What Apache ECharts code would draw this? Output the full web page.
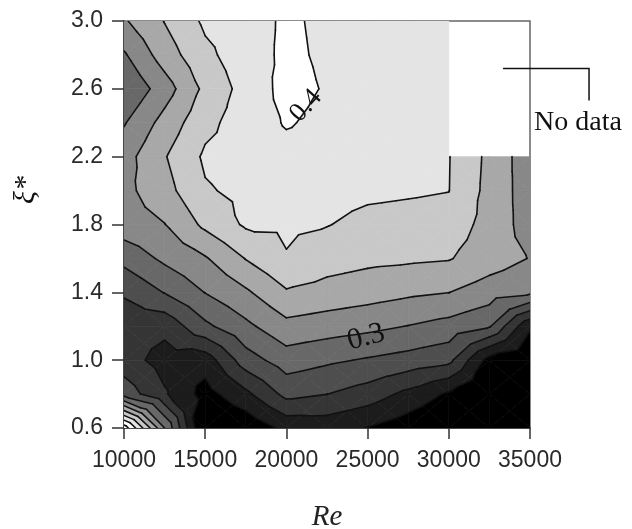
<!DOCTYPE html>
<html><head><meta charset="utf-8">
<script src="https://cdn.jsdelivr.net/npm/echarts@6/dist/echarts.min.js"></script>
<style>html,body{margin:0;padding:0;background:#fff}#c{width:632px;height:529px}</style>
</head><body><div id="c"></div>
<script>
// ---- data ----
const reValues = [10000,12500,15000,17500,20000,22500,25000,27500,30000,32500,35000];
const xiValues = [0.6,0.8,1.0,1.2,1.4,1.6,1.8,2.0,2.2,2.4,2.6,2.8,3.0];
const xTicks = [10000,15000,20000,25000,30000,35000];
const yTicks = [0.6,1.0,1.4,1.8,2.2,2.6,3.0];
// grid values per row of xi (null = no data)
const z_0_6 = [0.44, 0.3, 0.165, 0.18, 0.207, 0.21, 0.199, 0.185, 0.17, 0.16, 0.155];
const z_0_8 = [0.265, 0.228, 0.19, 0.219, 0.2574, 0.2503, 0.2388, 0.2182, 0.196, 0.175, 0.165];
const z_1_0 = [0.236, 0.215, 0.211, 0.2635, 0.2875, 0.2794, 0.2724, 0.2656, 0.2571, 0.19, 0.18];
const z_1_2 = [0.238, 0.232, 0.2697, 0.2942, 0.3176, 0.3119, 0.3066, 0.2993, 0.2911, 0.2776, 0.2035];
const z_1_4 = [0.2524, 0.2761, 0.3007, 0.321, 0.3474, 0.341, 0.3356, 0.3296, 0.3254, 0.3128, 0.3052];
const z_1_6 = [0.2828, 0.3053, 0.3227, 0.351, 0.3735, 0.361, 0.356, 0.354, 0.3516, 0.3372, 0.324];
const z_1_8 = [0.3144, 0.3243, 0.3556, 0.3785, 0.379, 0.376, 0.368, 0.366, 0.364, 0.3409, 0.314];
const z_2_0 = [0.318, 0.341, 0.3725, 0.381, 0.385, 0.384, 0.38, 0.378, 0.3755, 0.3422, 0.312];
const z_2_2 = [0.315, 0.3483, 0.379, 0.386, 0.392, 0.391, 0.389, 0.384, 0.376, 0.3439, 0.31];
const z_2_4 = [0.298, 0.3339, 0.3681, 0.3872, 0.402, 0.394, 0.391, 0.389, 0.386, null, null];
const z_2_6 = [0.2765, 0.313, 0.3562, 0.3844, 0.408, 0.398, 0.392, 0.389, 0.386, null, null];
const z_2_8 = [0.297, 0.3372, 0.3692, 0.3884, 0.405, 0.396, 0.391, 0.389, 0.387, null, null];
const z_3_0 = [0.322, 0.351, 0.3795, 0.389, 0.404, 0.395, 0.39, 0.388, 0.386, null, null];
const levels = [0.2,0.225,0.25,0.275,0.3,0.325,0.35,0.375,0.4,0.425];
const contourLabelText = ['0.4','0.3'];
const contourLabelRe = [21200, 24900];
const contourLabelXi = [2.5, 1.135];

// ---- styles ----
const bandColors = ['#000000','#1c1c1c','#353535','#4e4e4e','#686868','#888888','#a8a8a8','#c8c8c8','#e4e4e4','#ffffff','#ffffff'];
const labelAngles = [48, 15];
const labelSizes = [27, 30];

const zRows = [z_0_6,z_0_8,z_1_0,z_1_2,z_1_4,z_1_6,z_1_8,z_2_0,z_2_2,z_2_4,z_2_6,z_2_8,z_3_0];

const cells = [];
for (let j = 0; j < xiValues.length - 1; j++) {
  for (let i = 0; i < reValues.length - 1; i++) {
    const a = zRows[j][i], b = zRows[j][i+1], c = zRows[j+1][i+1], d = zRows[j+1][i];
    if (a == null || b == null || c == null || d == null) continue;
    cells.push([reValues[i], xiValues[j], i, j]);
  }
}

function cellTriangles(i, j) {
  const x0 = reValues[i], x1 = reValues[i+1], y0 = xiValues[j], y1 = xiValues[j+1];
  const p = [[x0,y0,zRows[j][i]],[x1,y0,zRows[j][i+1]],[x1,y1,zRows[j+1][i+1]],[x0,y1,zRows[j+1][i]]];
  const c = [(x0+x1)/2,(y0+y1)/2,(p[0][2]+p[1][2]+p[2][2]+p[3][2])/4];
  return [[p[0],p[1],c],[p[1],p[2],c],[p[2],p[3],c],[p[3],p[0],c]];
}
function clipHalf(poly, L, keepAbove) {
  const out = [];
  for (let k = 0; k < poly.length; k++) {
    const a = poly[k], b = poly[(k+1) % poly.length];
    const ina = keepAbove ? a[2] >= L : a[2] <= L;
    const inb = keepAbove ? b[2] >= L : b[2] <= L;
    if (ina) out.push(a);
    if (ina !== inb) {
      const t = (L - a[2]) / (b[2] - a[2]);
      out.push([a[0] + t*(b[0]-a[0]), a[1] + t*(b[1]-a[1]), L]);
    }
  }
  return out;
}

function renderFill(params, api) {
  const i = api.value(2), j = api.value(3);
  const children = [];
  for (const tri of cellTriangles(i, j)) {
    for (let b = 0; b <= levels.length; b++) {
      let poly = tri;
      if (b > 0) poly = clipHalf(poly, levels[b-1], true);
      if (poly.length < 3) continue;
      if (b < levels.length) poly = clipHalf(poly, levels[b], false);
      if (poly.length < 3) continue;
      const pts = poly.map(q => api.coord([q[0], q[1]]));
      children.push({type:'polygon', shape:{points:pts}, silent:true,
        style:{fill:bandColors[b], stroke:bandColors[b], lineWidth:0.7}});
    }
  }
  return {type:'group', children};
}
function renderLines(params, api) {
  const i = api.value(2), j = api.value(3);
  const children = [];
  for (const tri of cellTriangles(i, j)) {
    for (const L of levels) {
      const pts = [];
      for (let k = 0; k < 3; k++) {
        const a = tri[k], b = tri[(k+1) % 3];
        if ((a[2] >= L) !== (b[2] >= L)) {
          const t = (L - a[2]) / (b[2] - a[2]);
          pts.push(api.coord([a[0] + t*(b[0]-a[0]), a[1] + t*(b[1]-a[1])]));
        }
      }
      if (pts.length === 2) {
        children.push({type:'line', silent:true, shape:{x1:pts[0][0],y1:pts[0][1],x2:pts[1][0],y2:pts[1][1]},
          style:{stroke:'#111', lineWidth:1.6, lineCap:'round'}});
      }
    }
  }
  return {type:'group', children};
}
const labelData = contourLabelText.map((t, k) => [contourLabelRe[k], contourLabelXi[k], k]);
function renderLabel(params, api) {
  const k = api.value(2);
  const p = api.coord([api.value(0), api.value(1)]);
  return {type:'text', x:p[0], y:p[1], rotation: labelAngles[k]*Math.PI/180, silent:true,
    style:{text: contourLabelText[k], fill:'#111', align:'center', verticalAlign:'middle',
      fontFamily:'"Liberation Serif", "Times New Roman", serif', fontSize: labelSizes[k]}};
}

const chart = echarts.init(document.getElementById('c'), null, {renderer:'canvas'});
const axisFont = '"Liberation Sans", Arial, sans-serif';
chart.setOption({
  animation: false,
  backgroundColor: '#ffffff',
  grid: {left:124, top:21, width:406, height:407, outerBoundsMode:'none', containLabel:false,
    show:true, borderColor:'#666', borderWidth:1.5, backgroundColor:'transparent'},
  xAxis: {type:'value', min:10000, max:35000, interval:5000,
    name:'Re', nameLocation:'middle', nameGap:75,
    nameTextStyle:{fontFamily:'"Liberation Serif", serif', fontStyle:'italic', fontSize:29, color:'#222'},
    axisLine:{show:true, lineStyle:{color:'#333', width:1.5}},
    axisTick:{show:true, length:11, lineStyle:{color:'#333', width:1.5}, customValues: xTicks},
    axisLabel:{margin:21, fontFamily:axisFont, fontSize:23, color:'#2a2a2a', customValues: xTicks,
      formatter: v => String(v)},
    splitLine:{show:false}},
  yAxis: {type:'value', min:0.6, max:3.0,
    axisLine:{show:true, lineStyle:{color:'#333', width:1.5}},
    axisTick:{show:true, length:12, lineStyle:{color:'#333', width:1.5}, customValues: yTicks},
    axisLabel:{margin:21, fontFamily:axisFont, fontSize:23, color:'#2a2a2a', customValues: yTicks,
      formatter: v => Number(v).toFixed(1)},
    splitLine:{show:false}},
  series: [
    {type:'custom', renderItem: renderFill, data: cells, encode:{x:0, y:1}, clip:true, z:1, silent:true},
    {type:'custom', renderItem: renderLines, data: cells, encode:{x:0, y:1}, clip:true, z:2, silent:true},
    {type:'custom', renderItem: renderLabel, data: labelData, encode:{x:0, y:1}, clip:false, z:3, silent:true}
  ]
});

const anchor = chart.convertToPixel({gridIndex:0}, [33340, 2.72]);
const elbowX = anchor[0] + 86;
chart.setOption({
  graphic: [
    {type:'polyline', silent:true, z:10, shape:{points:[[anchor[0], anchor[1]], [elbowX, anchor[1]], [elbowX, anchor[1]+32]]},
      style:{stroke:'#111', lineWidth:1.5, fill:null}},
    {type:'text', silent:true, z:10, x:534, y:123,
      style:{text:'No data', fill:'#111', fontFamily:'"Liberation Serif", "Times New Roman", serif', fontSize:28,
        align:'left', verticalAlign:'middle'}},
    {type:'text', silent:true, z:10, x:26, y:190, rotation: Math.PI/2,
      style:{text:'ξ*', fill:'#111', fontFamily:'"Liberation Serif", "Times New Roman", serif', fontStyle:'italic', fontSize:30,
        align:'center', verticalAlign:'middle'}}
  ]
});
</script></body></html>
